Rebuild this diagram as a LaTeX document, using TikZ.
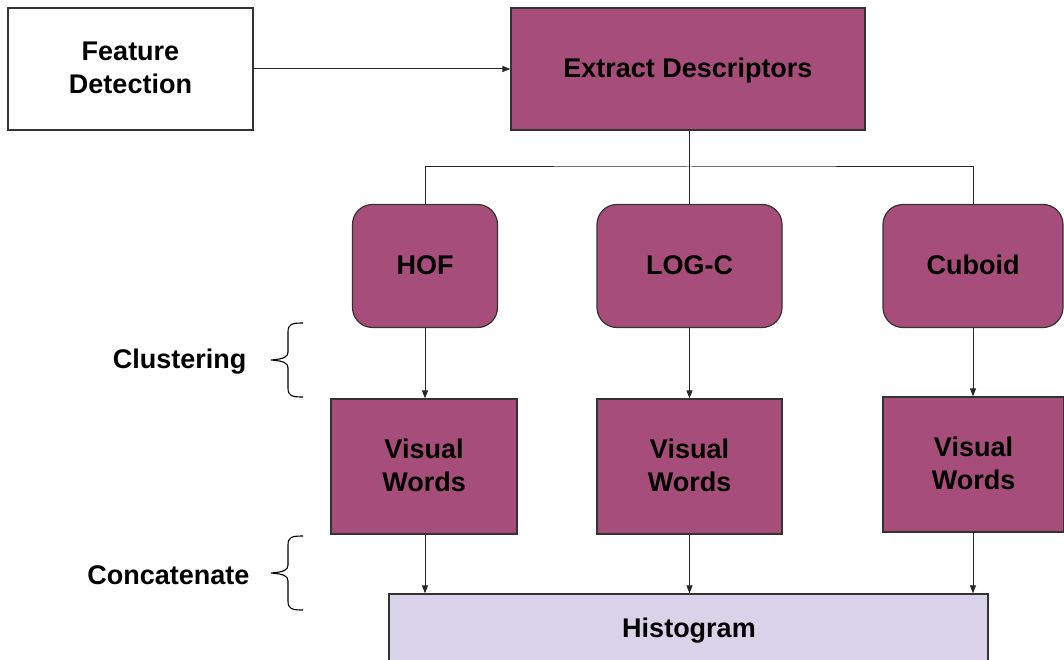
\documentclass[tikz,border=0pt]{standalone}
\usepackage{fontspec}
\setmainfont{Liberation Sans}
\usetikzlibrary{arrows.meta}
\definecolor{plum}{HTML}{A64D79}
\definecolor{lilac}{HTML}{D9D2E9}
\definecolor{edge}{HTML}{333333}
\tikzset{
  x=1pt, y=-1pt,
  lbl/.style={font=\fontsize{27}{33}\selectfont\bfseries, align=center, text=black, text depth=2pt},
  boxwhite/.style={lbl, draw=edge, line width=1.2pt, fill=white, inner sep=0pt},
  boxplum/.style={lbl, draw=edge, line width=1.2pt, fill=plum, inner sep=0pt},
  roundplum/.style={boxplum, rounded corners=20pt},
  boxlilac/.style={lbl, draw=edge, line width=1.2pt, fill=lilac, inner sep=0pt},
  conn/.style={draw=black!85, line width=1pt},
  arr/.style={conn, -{Triangle[length=8pt,width=6pt]}},
  bracestroke/.style={draw=black, line width=1.1pt},
  side/.style={font=\fontsize{27}{33}\selectfont\bfseries, text=black}
}
\begin{document}
\begin{tikzpicture}
\useasboundingbox (0,0) rectangle (1064,660);

% top row
\node[boxwhite, minimum width=245pt, minimum height=122pt] (fd) at (130.5,69) {Feature\\Detection};
\node[boxplum, minimum width=354pt, minimum height=122pt] (ed) at (688,69) {Extract Descriptors};

% descriptor types
\node[roundplum, minimum width=145pt, minimum height=123pt] (hof) at (425,266) {HOF};
\node[roundplum, minimum width=185pt, minimum height=123pt] (logc) at (689.5,266) {LOG-C};
\node[roundplum, minimum width=180pt, minimum height=123pt] (cub) at (973,266) {Cuboid};

% visual word boxes
\node[boxplum, minimum width=186pt, minimum height=135pt] (vw1) at (424,466.5) {Visual\\Words};
\node[boxplum, minimum width=185pt, minimum height=135pt] (vw2) at (689.5,466.5) {Visual\\Words};
\node[boxplum, minimum width=181pt, minimum height=135pt] (vw3) at (973.5,464.5) {Visual\\Words};

% histogram (runs past the lower edge)
\node[boxlilac, minimum width=599pt, minimum height=110pt] (hist) at (688.5,649) {};
\node[side] (histlbl) at (689,631) {Histogram};

% connectors
\draw[arr] (fd.east) -- (ed.west);
\coordinate (split) at (689.5,167);
\draw[conn] (ed.south -| split) -- (split);
\draw[conn] (hof.north) |- (split) -| (cub.north);
\draw[conn] (split) -- (logc.north);

\draw[arr] (hof.south) -- (hof.south |- vw1.north);
\draw[arr] (logc.south) -- (vw2.north);
\draw[arr] (cub.south) -- (cub.south |- vw3.north);

\draw[arr] (hof.south |- vw1.south) -- (hof.south |- hist.north);
\draw[arr] (vw2.south) -- (vw2.south |- hist.north);
\draw[arr] (cub.south |- vw3.south) -- (cub.south |- hist.north);

% braces and their labels
\coordinate (b1) at (271,360);
\coordinate (b2) at (271,573);
\draw[bracestroke] (303,323) .. controls (292,323) and (288,324) .. (288,332)
  -- (288,352) .. controls (288,357) and (284,359) .. (b1)
  .. controls (284,361) and (288,363) .. (288,368)
  -- (288,388) .. controls (288,396) and (292,397) .. (303,397);
\draw[bracestroke] (303,536) .. controls (292,536) and (288,537) .. (288,545)
  -- (288,565) .. controls (288,570) and (284,572) .. (b2)
  .. controls (284,574) and (288,576) .. (288,581)
  -- (288,601) .. controls (288,609) and (292,610) .. (303,610);
\node[side, anchor=east] (clu) at ([xshift=-21pt,yshift=-2pt]b1) {Clustering};
\node[side, anchor=east] (cat) at ([xshift=-18pt,yshift=-2pt]b2) {Concatenate};
\end{tikzpicture}
\end{document}
